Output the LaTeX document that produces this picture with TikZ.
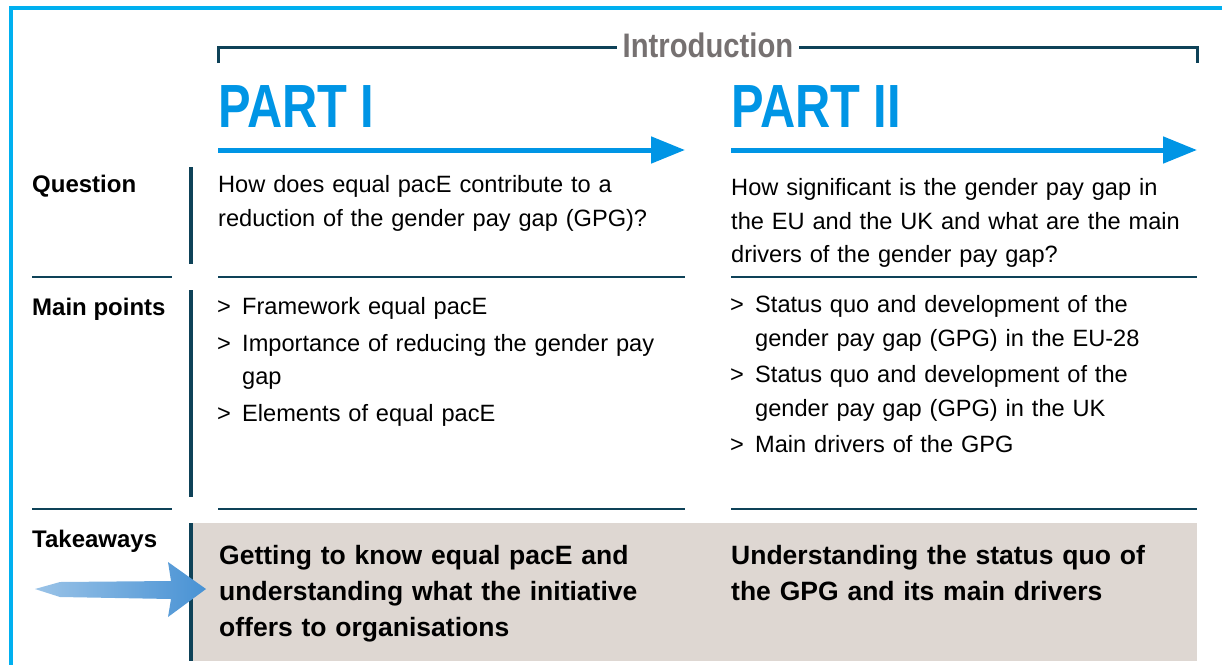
\documentclass[tikz,border=0pt]{standalone}
\usepackage{fontspec}
\setmainfont{Liberation Sans}
\usetikzlibrary{arrows.meta,positioning}

\definecolor{framecyan}{RGB}{0,176,240}
\definecolor{partblue}{RGB}{0,149,229}
\definecolor{darkteal}{RGB}{14,66,88}
\definecolor{introgray}{RGB}{118,113,113}
\definecolor{boxbeige}{RGB}{222,215,210}
\definecolor{sketchblue}{RGB}{72,146,212}

\tikzset{
  rowlabel/.style={anchor=base west, inner sep=0, font=\bfseries\fontsize{24}{28}\selectfont},
  bodytext/.style={anchor=north west, inner sep=0, text width=#1, align=left,
    font=\fontsize{23.6}{33.5}\selectfont},
  takeaway/.style={anchor=north west, inner sep=0, text width=#1, align=left,
    font=\bfseries\fontsize{26.5}{36}\selectfont},
  parttitle/.style={anchor=base west, inner sep=0, text=partblue,
    font=\bfseries\fontsize{61}{70}\selectfont},
  separator/.style={darkteal, line width=2},
  rowbar/.style={darkteal, line width=4},
  partarrow/.style={partblue, line width=5, -{Triangle[length=34,width=26]}},
}
\newcommand{\itemgt}{\makebox[25pt][l]{>}}
\newcommand{\itemcont}{\hspace*{25pt}}

\begin{document}
\begin{tikzpicture}[x=1pt,y=-1pt]
	\useasboundingbox (0,0) rectangle (1222,664);
	% Outer frame (open to the right and bottom)
	\draw[framecyan, line width=4] (11,670) -- (11,8) -- (1230,8);
	% Introduction bracket
	\node[inner xsep=6, inner ysep=0, anchor=base, text=introgray,
	  font=\bfseries\fontsize{34}{40}\selectfont] (intro) at (708,57)
	  {\scalebox{0.86}[1]{Introduction}};
	\draw[darkteal, line width=3] (218,63) -- (218,47) -- (intro.west |- 0,47);
	\draw[darkteal, line width=3] (intro.east |- 0,47) -- (1197,47) -- (1197,63);
	% Part titles and arrows
	\node[parttitle] (part1) at (218,127) {\scalebox{0.8}[1]{PART I}};
	\node[parttitle] (part2) at (731,127) {\scalebox{0.8}[1]{PART II}};
	\coordinate (arr1s) at (218,150);
	\coordinate (arr1e) at (685,150);
	\coordinate (arr2s) at (731,150);
	\coordinate (arr2e) at (1197,150);
	\draw[partarrow] (arr1s) -- (arr1e);
	\draw[partarrow] (arr2s) -- (arr2e);
	% Row labels
	\node[rowlabel] (question) at (32,192) {Question};
	\node[rowlabel] (mainpoints) at (32,315) {Main points};
	\node[rowlabel] (takeaways) at (32,547) {Takeaways};
	% Separators
	\foreach \y in {277,509} {
	  \draw[separator] (32,\y) -- (172,\y);
	  \draw[separator] (218,\y) -- (685,\y);
	  \draw[separator] (731,\y) -- (1197,\y);
	}
	% Takeaway box
	\fill[boxbeige] (193,523) rectangle (1197,661);
	% Row bars
	\draw[rowbar] (191,167) -- (191,264);
	\draw[rowbar] (191,290) -- (191,497);
	\draw[rowbar] (191,523) -- (191,661);
	% Questions
	\node[bodytext=460pt] (q1) at (218,175.5)
	  {How does equal pacE contribute to a\\reduction of the gender pay gap (GPG)?};
	\node[bodytext=470pt] (q2) at (731,178.5)
	  {How significant is the gender pay gap in\\the EU and the UK and what are the main\\drivers of the gender pay gap?};
	% Main points
	\node[bodytext=470pt] (mp1) at (217,297.5)
	  {\itemgt Framework equal pacE\\[3pt]
	   \itemgt Importance of reducing the gender pay\\
	   \itemcont gap\\[3pt]
	   \itemgt Elements of equal pacE};
	\node[bodytext=470pt] (mp2) at (730,295.5)
	  {\itemgt Status quo and development of the\\
	   \itemcont gender pay gap (GPG) in the EU-28\\[3pt]
	   \itemgt Status quo and development of the\\
	   \itemcont gender pay gap (GPG) in the UK\\[3pt]
	   \itemgt Main drivers of the GPG};
	% Takeaways
	\node[takeaway=470pt] (tk1) at (219,545.5)
	  {Getting to know equal pacE and\\understanding what the initiative\\offers to organisations};
	\node[takeaway=470pt] (tk2) at (731,545.5)
	  {Understanding the status quo of\\the GPG and its main drivers};
	% Sketchy arrow
	\shade[left color=sketchblue!55, right color=sketchblue]
	  (35,589) -- (60,582) -- (171,581) -- (168,562) -- (206,589)
	  -- (168,617) -- (171,599) -- (60,597) -- cycle;
\end{tikzpicture}
\end{document}
